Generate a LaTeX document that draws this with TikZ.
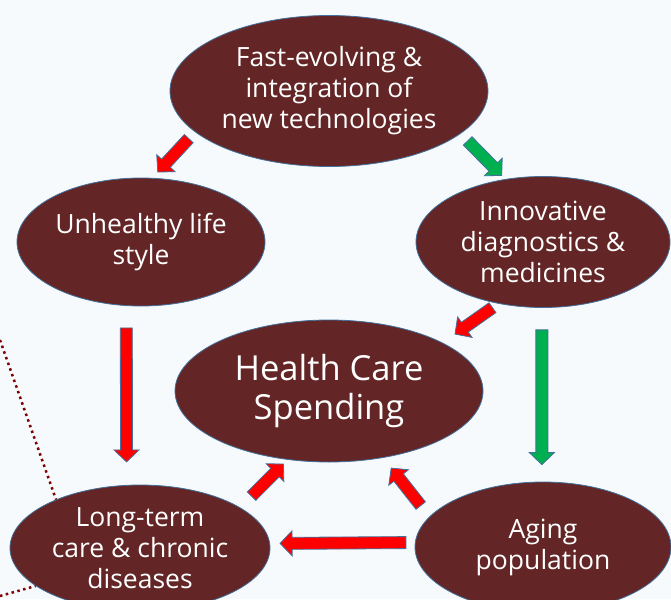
\documentclass[tikz,border=0pt]{standalone}
\usepackage{fontspec}
\setmainfont{Open Sans}
\usetikzlibrary{shapes.geometric,calc}

\definecolor{bgblue}{RGB}{247,250,253}
\definecolor{bubblefill}{RGB}{99,37,37}
\definecolor{rimblue}{RGB}{65,113,156}
\definecolor{arrgreen}{RGB}{0,176,80}
\definecolor{dotred}{RGB}{128,0,0}

\tikzset{
  bubble/.style={ellipse, draw=rimblue, line width=0.8pt, fill=bubblefill,
    text=white, align=center, inner sep=0pt, font=\fontsize{26.5}{31}\selectfont},
  arrowedge/.style={draw=rimblue, line width=0.8pt, line join=miter},
  dotline/.style={dotred, line width=2.5pt, dash pattern=on 2.5pt off 3.5pt},
}

% block arrow: colour, from, to, gap at start, gap at end
\newcommand{\blockarr}[5]{%
  \path ($(#2)!#4!(#3)$) coordinate (ba) ($(#3)!#5!(#2)$) coordinate (bb);
  \path ($(bb)!12pt!(ba)$) coordinate (bh);
  \filldraw[arrowedge, fill=#1]
    ($(ba)!6pt!90:(bb)$) -- ($(bh)!6pt!90:(bb)$) -- ($(bh)!12.5pt!90:(bb)$) -- (bb)
    -- ($(bh)!12.5pt!-90:(bb)$) -- ($(bh)!6pt!-90:(bb)$) -- ($(ba)!6pt!-90:(bb)$) -- cycle;
}

\begin{document}
\begin{tikzpicture}[x=1pt, y=-1pt]
    \useasboundingbox (0,0) rectangle (671,599);
    \fill[bgblue] (0,0) rectangle (671,599);

    % Bubbles
    \node[bubble, minimum width=318pt, minimum height=151pt] (fast) at (329,91)
        {Fast-evolving \&\\integration of\\new technologies};
    \node[bubble, minimum width=248pt, minimum height=128pt] (unh) at (141,242)
        {Unhealthy life\\style};
    \node[bubble, minimum width=254pt, minimum height=131pt] (innov) at (543,242)
        {Innovative\\diagnostics \&\\medicines};
    \node[bubble, minimum width=308pt, minimum height=142pt,
        font=\fontsize{34.5}{39}\selectfont] (hcs) at (329,391) {Health Care\\Spending};
    \node[bubble, minimum width=260pt, minimum height=126pt] (lt) at (140,548)
        {Long-term\\care \& chronic\\diseases};
    \node[bubble, minimum width=256pt, minimum height=130pt] (aging) at (543,547)
        {Aging\\population};

    % Dotted lines from outside
    \coordinate (dotA) at (0,340);
    \coordinate (dotB) at (0,596);
    \draw[dotline] (dotA) -- (lt.150);
    \draw[dotline] (dotB) -- (lt.200);

    % Arrows
    \blockarr{red}{fast.197}{unh.80}{9pt}{8pt}
    \blockarr{arrgreen}{fast.342}{innov.121}{10pt}{5pt}
    \blockarr{red}{innov.234}{hcs.23}{7pt}{15pt}
    \blockarr{red}{unh.257}{lt.102}{22pt}{23pt}
    \blockarr{arrgreen}{innov.269}{aging.91}{22pt}{17pt}
    \blockarr{red}{lt.22}{hcs.239}{16pt}{6pt}
    \blockarr{red}{aging.165}{hcs.309}{14pt}{13pt}
    \blockarr{red}{aging.178}{lt.2}{9pt}{10pt}
\end{tikzpicture}
\end{document}
